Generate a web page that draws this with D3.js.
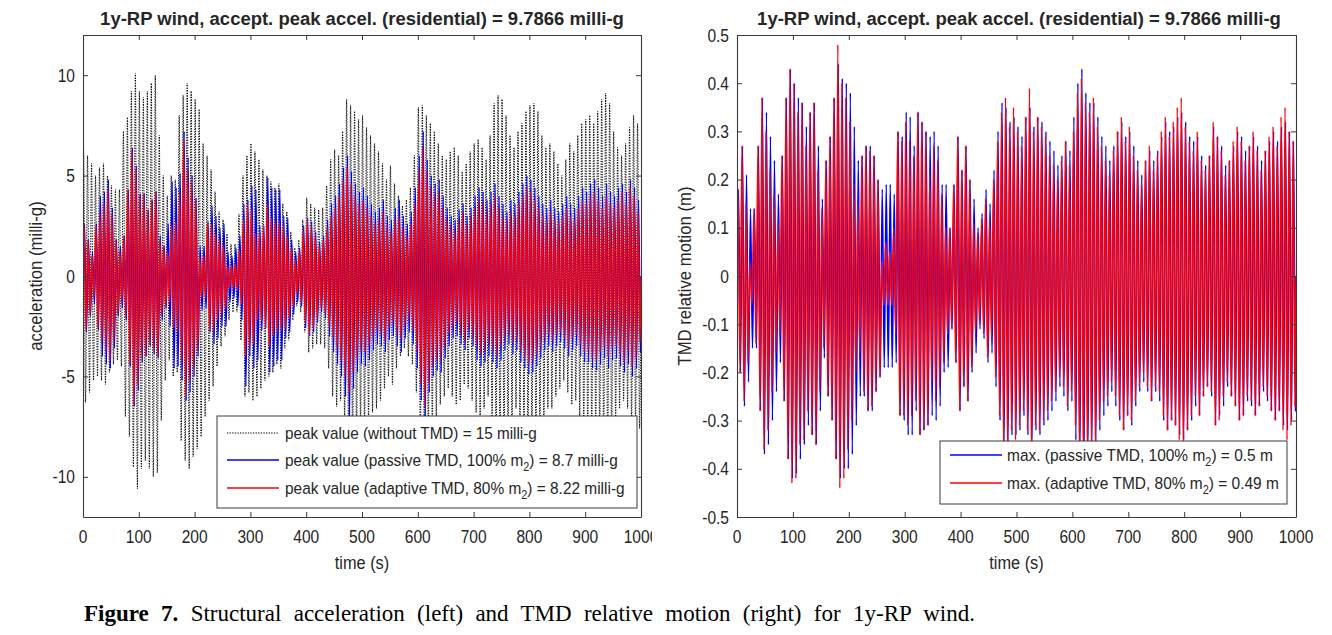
<!DOCTYPE html>
<html><head><meta charset="utf-8">
<script src="https://cdn.jsdelivr.net/npm/d3@7"></script>
<style>body{margin:0;background:#fff;overflow:hidden}</style>
</head><body>
<svg id="chart" width="1332" height="635"></svg>
<script>
// ---------------- DATA ----------------
// one oscillation cycle = 1000/140 s ; each array gives the peak of every cycle
const CYCLES = 140;
const timeTicks = [0,100,200,300,400,500,600,700,800,900,1000];
const accTicks = [-10,-5,0,5,10];
const motTicks = [-0.5,-0.4,-0.3,-0.2,-0.1,0,0.1,0.2,0.3,0.4,0.5];
const motTickLabels = ["-0.5","-0.4","-0.3","-0.2","-0.1","0","0.1","0.2","0.3","0.4","0.5"];

// structural acceleration, peaks in 0.1 milli-g (Up = positive peak, Dn = magnitude of negative peak)
const accNoTmdUp = [63,60,56,50,54,56,50, 45,43,43,72,79,92,101, 92,89,92,96,100,70,50, 40,50,48,80,90,96,92,
  88,83,66,60,53,42,32, 28,21,16,16,31,50,60, 66,62,58,53,50,47,44, 46,36,32,22,14,18,28, 39,36,34,33,34,45,58,
  63,60,72,88,85,82,78, 80,74,70,66,62,56,48, 55,46,40,35,38,44,60, 84,85,80,76,72,66,60, 58,62,64,60,52,56,62,
  66,68,64,58,70,86,90, 88,80,70,64,72,76,82, 85,86,82,70,64,66,62, 56,50,58,66,62,70,76, 78,80,76,82,88,91,86,
  72,64,60,66,74,80,76];
const accNoTmdDn = [63,58,52,50,52,54,48, 44,42,45,70,80,95,106, 96,92,96,100,98,72,52, 42,50,48,82,92,96,90,
  86,80,70,62,55,45,35, 30,22,18,18,32,60,58, 62,60,56,52,50,48,44, 46,36,32,22,15,18,28, 38,36,34,34,36,46,60,
  65,62,72,86,84,82,76, 78,72,68,66,62,56,50, 54,46,40,36,40,44,58, 82,84,80,75,70,64,60, 56,60,64,62,54,56,62,
  68,70,66,60,72,86,92, 88,80,72,66,72,78,82, 84,86,80,72,66,66,60, 56,52,58,64,62,70,76, 78,80,76,80,86,90,84,
  72,66,62,66,74,78,76];
const accPassiveUp = [26,18,12,26,40,42,48, 34,18,15,20,43,64,55, 41,41,33,38,42,20,15, 26,47,44,51,72,59,50,
  39,15,15,27,35,30,24, 26,12,10,14,20,36,38, 45,43,25,25,49,44,43, 43,30,29,18,12,14,25, 29,27,22,17,20,28,36,
  40,46,54,60,52,46,42, 44,40,36,32,34,38,30, 28,34,38,30,26,32,44, 60,72,58,50,46,48,40, 34,30,28,33,36,30,34,
  40,44,42,38,42,46,40, 36,32,38,36,42,46,50, 48,44,40,36,34,38,34, 32,36,40,36,34,40,44, 42,46,48,44,40,46,42,
  40,44,46,42,48,44,38];
const accPassiveDn = [28,20,14,27,40,44,46, 36,20,16,22,45,65,57, 43,40,35,39,41,22,16, 25,46,45,52,62,58,50,
  40,17,16,28,34,31,25, 25,13,11,15,22,55,40, 46,42,27,26,48,45,42, 42,31,28,19,13,15,26, 30,28,23,18,21,30,38,
  44,50,60,70,56,48,44, 45,42,37,34,35,38,32, 30,35,38,31,28,34,46, 62,70,58,50,47,48,41, 35,31,30,34,37,31,35,
  42,45,43,40,43,46,42, 37,34,39,37,43,46,49, 48,45,41,37,35,38,35, 33,36,40,37,35,40,43, 43,46,47,44,41,46,42,
  41,45,48,44,50,46,38];
const accAdaptiveUp = [26,18,10,25,31,36,43, 31,18,12,20,43,62,53, 40,41,33,38,42,18,15, 12,25,27,41,68,53,47,
  38,10,10,26,26,21,18, 15,5,5,6,13,28,36, 33,21,21,25,36,29,27, 27,25,20,14,8,12,22, 28,25,20,15,18,24,30,
  34,40,48,54,46,40,36, 38,34,30,26,28,32,25, 22,28,30,24,20,26,36, 52,64,52,44,40,42,34, 28,25,22,28,32,26,30,
  34,38,36,32,36,40,34, 30,27,32,30,36,40,44, 42,38,34,30,28,32,28, 27,30,34,30,28,34,38, 36,40,42,38,34,40,36,
  34,38,42,36,44,40,32];
const accAdaptiveDn = [27,19,11,26,32,37,42, 32,19,13,21,44,64,54, 41,40,34,37,40,19,16, 13,26,28,42,60,52,46,
  37,11,11,27,27,22,19, 16,6,6,7,14,40,35, 34,22,22,26,35,30,28, 27,26,21,15,9,13,23, 29,26,21,16,19,25,31,
  36,42,50,58,48,41,37, 38,35,31,27,29,32,26, 23,29,31,25,21,27,37, 54,65,53,45,41,42,35, 29,26,23,29,33,27,31,
  35,39,37,33,37,40,35, 31,28,33,31,37,41,44, 42,39,35,31,29,32,29, 28,31,35,31,29,34,38, 37,41,42,38,35,40,36,
  35,39,43,37,45,41,33];

// TMD relative motion, peaks in 0.01 m
const motPassiveUp = [18,27,21,14,14,27,37, 34,29,24,17,25,37,43, 40,37,36,31,34,36,27, 16,24,29,37,44,41,40,
  38,31,24,25,27,27,25, 20,18,19,19,17,30,29, 34,33,27,34,32,30,29, 30,27,19,19,10,19,29, 22,27,20,16,10,13,18,
  15,22,30,36,35,32,33, 31,29,33,35,31,33,32, 30,28,26,23,25,28,26, 33,40,43,38,36,36,33, 29,27,24,27,30,32,29,
  30,27,24,21,24,26,24, 26,29,32,30,31,33,34, 32,29,28,29,25,23,25, 31,29,27,23,24,27,30, 29,26,27,29,27,24,26,
  28,30,28,31,32,30,28];
const motPassiveDn = [20,27,22,15,15,28,37, 35,30,24,18,26,38,42, 41,38,35,31,33,35,28, 17,25,30,38,42,40,40,
  37,31,25,25,28,28,24, 21,19,19,19,18,29,30, 33,33,28,33,32,31,29, 30,27,20,19,11,18,28, 23,26,20,16,11,13,18,
  16,23,30,36,35,33,33, 32,29,33,36,32,33,31, 30,28,26,23,25,28,26, 34,39,42,38,36,35,32, 29,27,24,27,30,32,29,
  31,27,24,22,24,26,24, 26,30,32,30,31,33,34, 32,30,27,29,25,23,25, 31,29,27,23,25,27,30, 29,26,27,29,27,24,26,
  28,30,28,31,32,30,28];
const motAdaptiveUp = [18,27,15,3,14,27,37, 30,22,17,11,25,37,43, 40,34,36,27,34,36,22, 14,24,29,37,48,40,37,
  32,19,15,25,27,26,25, 20,3,7,5,10,30,28, 32,28,25,34,32,30,21, 27,24,17,10,10,19,29, 22,27,20,11,9,12,16,
  12,20,28,34,37,31,35, 30,27,33,39,30,33,31, 29,25,23,20,24,28,23, 30,38,41,36,34,37,31, 27,24,21,26,30,33,28,
  31,25,22,19,24,27,22, 25,30,33,29,32,35,37, 31,28,26,30,24,22,25, 32,29,26,21,24,28,31, 28,24,27,30,26,22,26,
  29,31,27,33,35,30,28];
const motAdaptiveDn = [20,26,18,6,14,28,36, 32,24,16,12,26,38,43, 42,35,34,28,33,35,24, 15,25,30,38,44,42,36,
  30,20,16,24,28,27,24, 21,6,6,6,12,29,29, 31,29,26,33,32,31,22, 26,23,18,12,11,18,28, 23,26,19,12,10,12,17,
  13,21,29,35,36,32,34, 31,28,32,38,31,32,30, 28,26,24,21,23,27,24, 31,37,40,37,35,36,30, 26,25,22,25,29,32,29,
  30,26,23,20,23,26,23, 24,29,32,30,31,34,36, 32,29,25,29,25,23,24, 31,30,25,22,25,27,30, 29,25,26,29,27,23,25,
  28,30,28,32,34,31,27];

const titleText = "1y-RP wind, accept. peak accel. (residential) = 9.7866 milli-g";
const legendAcc = [
  {pre:"peak value (without TMD) = 15 milli-g", sub:"", post:""},
  {pre:"peak value (passive TMD, 100% m", sub:"2", post:") = 8.7 milli-g"},
  {pre:"peak value (adaptive TMD, 80% m", sub:"2", post:") = 8.22 milli-g"}];
const legendMot = [
  {pre:"max. (passive TMD, 100% m", sub:"2", post:") = 0.5 m"},
  {pre:"max. (adaptive TMD, 80% m", sub:"2", post:") = 0.49 m"}];

// ---------------- DRAWING ----------------
const svg = d3.select("#chart");
const SANS = "'Liberation Sans', Arial, Helvetica, sans-serif";
const TXT = "#262626", AX = "#3a3a3a";
const PERIOD = 1000 / CYCLES;

function peaks(up, dn, unit, off) {
  const pts = [[0, 0]];
  up.forEach((u, k) => {
    pts.push([k * PERIOD + PERIOD * 0.25 + off, u * unit]);
    pts.push([k * PERIOD + PERIOD * 0.75 + off, -dn[k] * unit]);
  });
  pts.push([1000, 0]);
  return pts;
}

function sText(g, x, y, str, opt) {
  const t = g.append("text").attr("x", 0).attr("y", 0)
    .attr("font-family", opt.family || SANS).attr("font-size", opt.size)
    .attr("font-weight", opt.weight || "normal").attr("fill", opt.fill || TXT)
    .attr("text-anchor", opt.anchor || "start").text(str);
  let s = opt.sx || 1;
  if (opt.width) s = opt.width / t.node().getComputedTextLength();
  t.attr("transform", `translate(${x},${y})` + (opt.rot ? ` rotate(${opt.rot})` : "") + ` scale(${s},1)`);
  return t;
}

function panel(cfg) {
  const g = svg.append("g");
  const x = d3.scaleLinear().domain([0, 1000]).range([cfg.x0, cfg.x1]);
  const y = d3.scaleLinear().domain(cfg.ydom).range([517, 35]);
  const id = "clip" + cfg.name;
  svg.append("clipPath").attr("id", id).append("rect")
    .attr("x", cfg.x0).attr("y", 35).attr("width", cfg.x1 - cfg.x0).attr("height", 482);
  const lg = g.append("g").attr("clip-path", `url(#${id})`);
  const line = d3.line().x(d => x(d[0])).y(d => y(d[1])).curve(d3.curveMonotoneX);
  cfg.series.forEach(s => {
    lg.append("path").attr("d", line(peaks(s.up, s.dn, cfg.unit, s.off)))
      .attr("fill", "none").attr("stroke", s.color).attr("stroke-width", s.w)
      .attr("stroke-dasharray", s.dash || null).attr("stroke-linejoin", "round");
  });
  // axes (box with inward ticks on all four sides)
  const tl = 5;
  const axB = d3.axisBottom(x).tickValues(timeTicks).tickSizeInner(-tl).tickSizeOuter(0).tickFormat("");
  const axT = d3.axisTop(x).tickValues(timeTicks).tickSizeInner(-tl).tickSizeOuter(0).tickFormat("");
  const axL = d3.axisLeft(y).tickValues(cfg.yticks).tickSizeInner(-tl).tickSizeOuter(0).tickFormat("");
  const axR = d3.axisRight(y).tickValues(cfg.yticks).tickSizeInner(-tl).tickSizeOuter(0).tickFormat("");
  const axes = [[axB, `translate(0,517)`], [axT, `translate(0,35)`], [axL, `translate(${cfg.x0},0)`], [axR, `translate(${cfg.x1},0)`]];
  axes.forEach(([a, tr]) => {
    const ag = g.append("g").attr("transform", tr).call(a);
    ag.select(".domain").attr("stroke", AX).attr("stroke-width", 1.1);
    ag.selectAll(".tick line").attr("stroke", AX).attr("stroke-width", 1);
  });
  // tick labels
  const labG = g.append("g");
  if (cfg.labelClip) {
    svg.append("clipPath").attr("id", id + "L").append("rect").attr("x", 0).attr("y", 0).attr("width", cfg.labelClip).attr("height", 635);
    labG.attr("clip-path", `url(#${id}L)`);
  }
  timeTicks.forEach(t => sText(labG, x(t), 543, String(t), {size: 18.5, anchor: "middle", sx: 0.84}));
  cfg.yticks.forEach((v, i) => sText(g, cfg.x0 - 8, y(v) + 6.5, cfg.ylabels[i], {size: 18.5, anchor: "end", sx: 0.84}));
  sText(g, (cfg.x0 + cfg.x1) / 2, 569, "time (s)", {size: 19, anchor: "middle", sx: 0.86});
  sText(g, cfg.ylabX, 276, cfg.ylabel, {size: 19, anchor: "middle", rot: -90, sx: 0.88});
  sText(g, cfg.titleX, 25, titleText, {size: 19, weight: "bold", anchor: "middle", width: 524});
  // legend
  const L = cfg.legend;
  const lgd = g.append("g");
  lgd.append("rect").attr("x", L.x0).attr("y", L.y0).attr("width", L.x1 - L.x0).attr("height", L.y1 - L.y0)
    .attr("fill", "#fff").attr("stroke", AX).attr("stroke-width", 1);
  L.items.forEach((it, i) => {
    const yy = L.rows[i];
    const s = L.styles[i];
    lgd.append("line").attr("x1", L.lx0).attr("x2", L.lx1).attr("y1", yy).attr("y2", yy)
      .attr("stroke", s.color).attr("stroke-width", s.w).attr("stroke-dasharray", s.dash || null);
    const t = lgd.append("text").attr("font-family", SANS).attr("font-size", 17).attr("fill", TXT);
    t.append("tspan").text(it.pre);
    if (it.sub) {
      t.append("tspan").attr("font-size", 12).attr("dy", 5).text(it.sub);
      t.append("tspan").attr("dy", -5).text(it.post);
    }
    const n = t.node().getComputedTextLength();
    t.attr("transform", `translate(${L.tx},${yy + 5.5}) scale(${(L.tends[i] - L.tx) / n},1)`);
  });
}

panel({
  name: "A", x0: 83, x1: 641, ydom: [-12, 12], unit: 0.1, yticks: accTicks,
  ylabels: accTicks.map(String), ylabel: "acceleration (milli-g)", ylabX: 42, titleX: 362, labelClip: 652,
  series: [
    {up: accNoTmdUp, dn: accNoTmdDn, color: "#000", w: 1, dash: "1.3,1.3", off: -0.8},
    {up: accPassiveUp, dn: accPassiveDn, color: "#0000ff", w: 1.5, off: 0.9},
    {up: accAdaptiveUp, dn: accAdaptiveDn, color: "#ff0000", w: 1.5, off: 0}],
  legend: {x0: 217, x1: 637, y0: 416, y1: 508, rows: [433, 460, 488], lx0: 227, lx1: 279, tx: 285,
    tends: [537, 618, 625], items: legendAcc,
    styles: [{color: "#000", w: 1, dash: "1.3,1.3"}, {color: "#0000ff", w: 1.6}, {color: "#ff0000", w: 1.6}]}
});

panel({
  name: "B", x0: 737, x1: 1296, ydom: [-0.5, 0.5], unit: 0.01, yticks: motTicks,
  ylabels: motTickLabels, ylabel: "TMD relative motion (m)", ylabX: 691, titleX: 1019,
  series: [
    {up: motPassiveUp, dn: motPassiveDn, color: "#0000ff", w: 1.5, off: 0.9},
    {up: motAdaptiveUp, dn: motAdaptiveDn, color: "#ff0000", w: 1.5, off: 0}],
  legend: {x0: 940, x1: 1287, y0: 441, y1: 504, rows: [455, 483], lx0: 950, lx1: 1002, tx: 1007,
    tends: [1273, 1279], items: legendMot,
    styles: [{color: "#0000ff", w: 1.6}, {color: "#ff0000", w: 1.6}]}
});

// caption: bold label + text, word gaps widened to span the same width as the original
const capX0 = 84, capX1 = 975;
const cap = svg.append("text").attr("x", capX0).attr("y", 621)
  .attr("font-family", "'Liberation Serif', 'Times New Roman', serif").attr("font-size", 23).attr("fill", "#000");
cap.append("tspan").attr("font-weight", "bold").text("Figure 7.");
const capRest = " Structural acceleration (left) and TMD relative motion (right) for 1y-RP wind.";
cap.append("tspan").text(capRest);
const capN = cap.node().getComputedTextLength();
const nSpaces = ("Figure 7." + capRest).split(" ").length - 1;
const extra = (capX1 - capX0) - capN;
if (extra > 0) cap.attr("word-spacing", extra / nSpaces);
else cap.attr("transform", `translate(${capX0},0) scale(${(capX1 - capX0) / capN},1) translate(${-capX0},0)`);
</script>
</body></html>
